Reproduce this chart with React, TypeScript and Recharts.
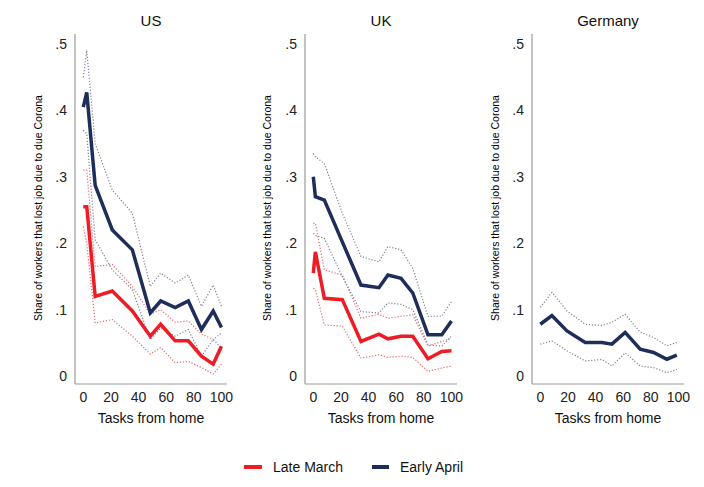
import React from "react";
import { LineChart, Line, XAxis, YAxis } from "recharts";

// ---------- data ----------
const xTicks = [0, 20, 40, 60, 80, 100];
const yTicks = [0, 0.1, 0.2, 0.3, 0.4, 0.5];
const yTickLabels = ["0", ".1", ".2", ".3", ".4", ".5"];

const usX = [0, 2.5, 8.6, 21, 35.5, 48.5, 56, 66.5, 76, 85.5, 94, 100];
const usRed = [0.255, 0.255, 0.12, 0.128, 0.098, 0.06, 0.078, 0.053, 0.053, 0.03, 0.018, 0.045];
const usRedHi = [0.31, 0.31, 0.165, 0.168, 0.135, 0.093, 0.1, 0.081, 0.083, 0.063, 0.055, 0.065];
const usRedLo = [0.225, 0.2, 0.08, 0.085, 0.06, 0.033, 0.043, 0.02, 0.022, 0.013, 0.003, 0.018];
const usBlue = [0.405, 0.427, 0.287, 0.22, 0.19, 0.095, 0.113, 0.103, 0.113, 0.07, 0.098, 0.073];
const usBlueHi = [0.45, 0.49, 0.35, 0.28, 0.245, 0.135, 0.155, 0.14, 0.152, 0.105, 0.137, 0.105];
const usBlueLo = [0.37, 0.365, 0.205, 0.16, 0.13, 0.055, 0.072, 0.06, 0.07, 0.03, 0.055, 0.042];

const ukX = [0, 1.5, 8, 21, 34.5, 47.5, 54, 63.5, 72, 83, 93, 100];
const ukRed = [0.155, 0.187, 0.117, 0.115, 0.052, 0.063, 0.056, 0.06, 0.06, 0.026, 0.037, 0.038];
const ukRedHi = [0.23, 0.23, 0.16, 0.152, 0.087, 0.093, 0.087, 0.09, 0.092, 0.045, 0.052, 0.057];
const ukRedLo = [0.132, 0.13, 0.077, 0.075, 0.027, 0.032, 0.028, 0.03, 0.028, 0.007, 0.012, 0.015];
const ukBlue = [0.3, 0.27, 0.265, 0.202, 0.137, 0.133, 0.152, 0.147, 0.125, 0.062, 0.062, 0.083];
const ukBlueHi = [0.335, 0.33, 0.32, 0.245, 0.18, 0.172, 0.195, 0.19, 0.162, 0.09, 0.09, 0.112];
const ukBlueLo = [0.215, 0.212, 0.207, 0.15, 0.097, 0.095, 0.11, 0.108, 0.1, 0.047, 0.045, 0.06];

const deX = [0, 8.4, 19.3, 32.5, 44.6, 51.8, 61.4, 72.3, 82, 91.6, 98.8];
const deBlue = [0.078, 0.091, 0.068, 0.0505, 0.0505, 0.048, 0.0657, 0.0404, 0.0354, 0.0253, 0.0313];
const deBlueHi = [0.1035, 0.126, 0.098, 0.078, 0.076, 0.081, 0.093, 0.066, 0.058, 0.0455, 0.0505];
const deBlueLo = [0.048, 0.053, 0.038, 0.0227, 0.025, 0.015, 0.035, 0.015, 0.0126, 0.005, 0.01];

const titles = ["US", "UK", "Germany"];
const seriesNames = ["Late March", "Early April"];
const xLabel = "Tasks from home";
const yLabel = "Share of workers that lost job due to due Corona";

// ---------- style ----------
const RED = "#EE1C24";
const NAVY = "#1E2D5A";
const RED_DOT = "#E8686B";
const NAVY_DOT = "#7D8299";
const AXIS = "#9A9A9A";
const FONT = '"Liberation Sans", Arial, Helvetica, sans-serif';

type Row = Record<string, number | null>;

function buildRows(
  xs: number[],
  red: number[] | null,
  redHi: number[] | null,
  redLo: number[] | null,
  blue: number[],
  blueHi: number[],
  blueLo: number[]
): Row[] {
  return xs.map((x, i) => ({
    x,
    red: red ? red[i] : null,
    redHi: redHi ? redHi[i] : null,
    redLo: redLo ? redLo[i] : null,
    blue: blue[i],
    blueHi: blueHi[i],
    blueLo: blueLo[i],
  }));
}

const CHART_W = 200;
const CHART_H = 415;
const Y_AXIS_W = 40;
const PLOT_W = 152;

const panels = [
  { axisX: 75, rows: buildRows(usX, usRed, usRedHi, usRedLo, usBlue, usBlueHi, usBlueLo), hasRed: true, yLabelX: 38 },
  { axisX: 305, rows: buildRows(ukX, ukRed, ukRedHi, ukRedLo, ukBlue, ukBlueHi, ukBlueLo), hasRed: true, yLabelX: 267 },
  { axisX: 532, rows: buildRows(deX, null, null, null, deBlue, deBlueHi, deBlueLo), hasRed: false, yLabelX: 495 },
];

function Panel({ p, title }: { p: (typeof panels)[number]; title: string }) {
  const left = p.axisX - Y_AXIS_W;
  const center = p.axisX + PLOT_W / 2;
  return (
    <>
      <div style={{ position: "absolute", left, top: 0 }}>
        <LineChart
          width={CHART_W}
          height={CHART_H}
          data={p.rows}
          margin={{ top: 34, right: CHART_W - Y_AXIS_W - PLOT_W, bottom: 0, left: 0 }}
        >
          <XAxis
            dataKey="x"
            type="number"
            domain={[-6, 104]}
            ticks={xTicks}
            interval={0}
            height={31}
            tickLine={false}
            tickSize={6}
            tickMargin={2}
            axisLine={{ stroke: AXIS, strokeWidth: 1.2 }}
            tick={{ fill: "#222", fontSize: 14, fontFamily: FONT }}
          />
          <YAxis
            type="number"
            domain={[-0.012, 0.515]}
            ticks={yTicks}
            interval={0}
            width={Y_AXIS_W}
            tickLine={false}
            tickSize={6}
            tickMargin={2}
            axisLine={{ stroke: AXIS, strokeWidth: 1.2 }}
            tickFormatter={(v: number) => yTickLabels[yTicks.indexOf(v)] ?? String(v)}
            tick={{ fill: "#222", fontSize: 14, fontFamily: FONT }}
          />
          {p.hasRed && (
            <Line dataKey="redHi" type="linear" stroke={RED_DOT} strokeWidth={1.2} strokeDasharray="1.2 1.8" dot={false} isAnimationActive={false} />
          )}
          {p.hasRed && (
            <Line dataKey="redLo" type="linear" stroke={RED_DOT} strokeWidth={1.2} strokeDasharray="1.2 1.8" dot={false} isAnimationActive={false} />
          )}
          <Line dataKey="blueHi" type="linear" stroke={NAVY_DOT} strokeWidth={1.2} strokeDasharray="1.2 1.8" dot={false} isAnimationActive={false} />
          <Line dataKey="blueLo" type="linear" stroke={NAVY_DOT} strokeWidth={1.2} strokeDasharray="1.2 1.8" dot={false} isAnimationActive={false} />
          {p.hasRed && (
            <Line dataKey="red" type="linear" stroke={RED} strokeWidth={3.5} dot={false} isAnimationActive={false} />
          )}
          <Line dataKey="blue" type="linear" stroke={NAVY} strokeWidth={3.5} dot={false} isAnimationActive={false} />
        </LineChart>
      </div>
      <div
        style={{
          position: "absolute",
          left: center,
          top: 20,
          transform: "translate(-50%, -50%)",
          fontFamily: FONT,
          fontSize: 15,
          color: "#111",
          whiteSpace: "nowrap",
        }}
      >
        {title}
      </div>
      <div
        style={{
          position: "absolute",
          left: center,
          top: 418,
          transform: "translate(-50%, -50%)",
          fontFamily: FONT,
          fontSize: 14,
          color: "#111",
          whiteSpace: "nowrap",
        }}
      >
        {xLabel}
      </div>
      <div
        style={{
          position: "absolute",
          left: p.yLabelX,
          top: 208,
          transform: "translate(-50%, -50%) rotate(-90deg)",
          fontFamily: FONT,
          fontSize: 10.5,
          color: "#000",
          whiteSpace: "nowrap",
        }}
      >
        {yLabel}
      </div>
    </>
  );
}

export default function App() {
  return (
    <div
      style={{
        position: "absolute",
        left: 0,
        top: 0,
        width: 704,
        height: 487,
        background: "#fff",
        overflow: "hidden",
      }}
    >
      {panels.map((p, i) => (
        <Panel key={titles[i]} p={p} title={titles[i]} />
      ))}
      {/* legend */}
      <div style={{ position: "absolute", left: 244, top: 465, width: 18, height: 4, background: RED }} />
      <div
        style={{
          position: "absolute",
          left: 273,
          top: 467,
          transform: "translateY(-50%)",
          fontFamily: FONT,
          fontSize: 14,
          color: "#111",
          whiteSpace: "nowrap",
        }}
      >
        {seriesNames[0]}
      </div>
      <div style={{ position: "absolute", left: 372, top: 465, width: 17, height: 4, background: NAVY }} />
      <div
        style={{
          position: "absolute",
          left: 400,
          top: 467,
          transform: "translateY(-50%)",
          fontFamily: FONT,
          fontSize: 14,
          color: "#111",
          whiteSpace: "nowrap",
        }}
      >
        {seriesNames[1]}
      </div>
    </div>
  );
}
